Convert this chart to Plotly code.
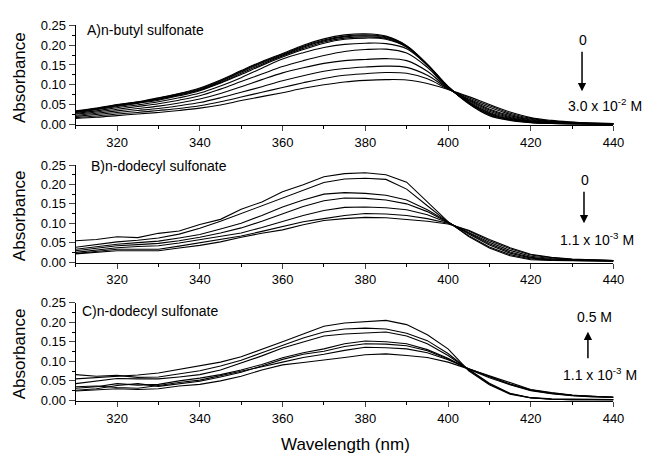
import plotly.graph_objects as go

W, H = 653, 462

wavelength = [310, 315, 320, 325, 330, 335, 340, 345, 350, 355, 360, 365, 370, 375,
              380, 385, 390, 395, 400, 405, 410, 415, 420, 425, 430, 435, 440]

# Panel A: n-butyl sulfonate (0 -> 3.0e-2 M)
A1 = [0.034,0.041,0.050,0.057,0.067,0.078,0.092,0.112,0.136,0.159,0.179,0.200,0.216,0.226,0.229,0.223,0.199,0.152,0.096,0.052,0.022,0.010,0.004,0.002,0.001,0.001,0.001]
A2 = [0.033,0.040,0.049,0.056,0.066,0.077,0.090,0.110,0.134,0.157,0.177,0.197,0.213,0.223,0.226,0.221,0.198,0.151,0.096,0.053,0.024,0.011,0.005,0.002,0.001,0.001,0.001]
A3 = [0.032,0.039,0.048,0.055,0.064,0.075,0.088,0.108,0.132,0.155,0.175,0.195,0.211,0.221,0.224,0.219,0.197,0.151,0.095,0.054,0.026,0.012,0.005,0.003,0.002,0.001,0.001]
A4 = [0.031,0.038,0.047,0.054,0.063,0.074,0.087,0.106,0.129,0.152,0.173,0.192,0.208,0.218,0.221,0.217,0.196,0.150,0.095,0.055,0.028,0.013,0.006,0.003,0.002,0.001,0.001]
A5 = [0.030,0.037,0.045,0.053,0.061,0.072,0.085,0.104,0.126,0.149,0.170,0.189,0.205,0.215,0.218,0.215,0.195,0.150,0.094,0.056,0.030,0.015,0.007,0.004,0.002,0.001,0.001]
A6 = [0.028,0.034,0.042,0.049,0.057,0.067,0.079,0.097,0.118,0.142,0.165,0.181,0.194,0.202,0.205,0.204,0.191,0.149,0.093,0.058,0.033,0.017,0.008,0.004,0.002,0.002,0.001]
A7 = [0.026,0.031,0.038,0.045,0.052,0.061,0.072,0.089,0.108,0.127,0.146,0.161,0.174,0.184,0.189,0.190,0.180,0.144,0.092,0.060,0.036,0.019,0.009,0.005,0.003,0.002,0.001]
A8 = [0.023,0.028,0.034,0.040,0.046,0.054,0.064,0.078,0.095,0.113,0.130,0.143,0.154,0.161,0.164,0.166,0.161,0.134,0.091,0.062,0.039,0.022,0.011,0.006,0.003,0.002,0.001]
A9 = [0.020,0.025,0.030,0.035,0.040,0.047,0.055,0.067,0.081,0.095,0.110,0.123,0.134,0.141,0.145,0.147,0.144,0.124,0.090,0.064,0.043,0.025,0.013,0.007,0.004,0.002,0.001]
A10 = [0.017,0.021,0.026,0.030,0.035,0.040,0.047,0.057,0.069,0.081,0.093,0.105,0.116,0.124,0.128,0.131,0.129,0.115,0.089,0.067,0.047,0.028,0.015,0.008,0.005,0.003,0.002]
A11 = [0.015,0.018,0.022,0.026,0.030,0.035,0.041,0.049,0.060,0.070,0.080,0.091,0.100,0.107,0.111,0.113,0.112,0.103,0.088,0.070,0.050,0.031,0.017,0.010,0.006,0.003,0.002]

# Panel B: n-dodecyl sulfonate (0 -> 1.1e-3 M)
B1 = [0.055,0.058,0.065,0.063,0.074,0.080,0.097,0.110,0.136,0.155,0.181,0.199,0.220,0.228,0.230,0.225,0.206,0.154,0.104,0.066,0.036,0.016,0.006,0.004,0.003,0.003,0.002]
B2 = [0.038,0.045,0.052,0.056,0.062,0.072,0.087,0.105,0.125,0.145,0.165,0.187,0.205,0.214,0.216,0.213,0.188,0.145,0.103,0.068,0.039,0.019,0.008,0.005,0.004,0.003,0.003]
B3 = [0.033,0.040,0.046,0.050,0.054,0.062,0.071,0.085,0.100,0.120,0.142,0.160,0.175,0.179,0.177,0.172,0.160,0.135,0.103,0.072,0.044,0.023,0.010,0.006,0.004,0.004,0.003]
B4 = [0.029,0.036,0.042,0.045,0.048,0.055,0.064,0.075,0.088,0.105,0.125,0.143,0.158,0.165,0.164,0.160,0.150,0.130,0.102,0.074,0.047,0.026,0.012,0.007,0.005,0.004,0.003]
B5 = [0.025,0.031,0.037,0.040,0.042,0.049,0.058,0.066,0.075,0.089,0.104,0.120,0.133,0.141,0.142,0.140,0.135,0.122,0.101,0.077,0.051,0.030,0.015,0.009,0.006,0.005,0.004]
B6 = [0.022,0.028,0.033,0.033,0.033,0.041,0.050,0.058,0.067,0.079,0.092,0.104,0.112,0.120,0.125,0.124,0.120,0.112,0.100,0.080,0.055,0.034,0.018,0.011,0.007,0.005,0.004]
B7 = [0.021,0.025,0.029,0.029,0.029,0.036,0.043,0.052,0.064,0.074,0.083,0.096,0.107,0.112,0.115,0.114,0.110,0.105,0.098,0.082,0.058,0.037,0.020,0.012,0.008,0.006,0.004]

# Panel C: n-dodecyl sulfonate (1.1e-3 M -> 0.5 M)
C1 = [0.055,0.058,0.062,0.065,0.070,0.079,0.088,0.098,0.112,0.130,0.150,0.170,0.190,0.198,0.202,0.205,0.194,0.168,0.132,0.076,0.040,0.016,0.006,0.003,0.002,0.002,0.002]
C2 = [0.066,0.062,0.064,0.059,0.060,0.068,0.076,0.088,0.103,0.122,0.142,0.160,0.175,0.183,0.185,0.183,0.172,0.153,0.120,0.078,0.042,0.017,0.007,0.003,0.002,0.002,0.002]
C3 = [0.043,0.050,0.056,0.055,0.055,0.060,0.066,0.078,0.095,0.114,0.134,0.150,0.165,0.170,0.172,0.175,0.165,0.145,0.115,0.080,0.044,0.018,0.007,0.004,0.003,0.002,0.002]
C4 = [0.031,0.035,0.043,0.039,0.041,0.050,0.057,0.066,0.078,0.092,0.109,0.122,0.132,0.145,0.152,0.150,0.145,0.130,0.108,0.080,0.058,0.040,0.025,0.017,0.012,0.009,0.008]
C5 = [0.026,0.030,0.038,0.043,0.036,0.043,0.049,0.060,0.072,0.088,0.105,0.118,0.126,0.138,0.145,0.144,0.140,0.127,0.106,0.081,0.060,0.041,0.026,0.018,0.013,0.010,0.008]
C6 = [0.035,0.037,0.033,0.031,0.038,0.046,0.052,0.063,0.075,0.086,0.098,0.110,0.118,0.128,0.136,0.135,0.132,0.122,0.104,0.081,0.061,0.042,0.027,0.019,0.013,0.010,0.008]
C7 = [0.024,0.027,0.030,0.028,0.030,0.037,0.041,0.050,0.062,0.078,0.091,0.097,0.103,0.110,0.117,0.119,0.115,0.110,0.098,0.080,0.062,0.044,0.028,0.020,0.014,0.010,0.008]

panels = [
    ([A1, A2, A3, A4, A5, A6, A7, A8, A9, A10, A11], "spline"),
    ([B1, B2, B3, B4, B5, B6, B7], "linear"),
    ([C1, C2, C3, C4, C5, C6, C7], "linear"),
]

panel_titles = ["A)n-butyl sulfonate", "B)n-dodecyl sulfonate", "C)n-dodecyl sulfonate"]
y_ticks = [0.00, 0.05, 0.10, 0.15, 0.20, 0.25]
x_ticks = [320, 340, 360, 380, 400, 420, 440]

FONT = "Liberation Sans, Arial, Helvetica, sans-serif"

def px(x):
    return x / W

def py(y):
    return 1 - y / H

fig = go.Figure()

panel_px = [(19, 121.8), (163, 263.8), (305, 406.5)]
x_dom = [px(77), px(624)]

for i, (curves, shape) in enumerate(panels):
    sfx = "" if i == 0 else str(i + 1)
    for c in curves:
        fig.add_trace(go.Scatter(
            x=wavelength, y=c, mode="lines",
            line=dict(color="black", width=1.1, shape=shape),
            xaxis="x" + sfx, yaxis="y" + sfx, showlegend=False, hoverinfo="skip"))
    top, bot = panel_px[i]
    fig.layout["xaxis" + sfx] = dict(
        domain=x_dom, anchor="y" + sfx, range=[310, 440],
        tickvals=x_ticks, ticks="outside", ticklen=5, tickwidth=1,
        showline=True, linecolor="black", linewidth=1, showgrid=False, zeroline=False,
        tickfont=dict(family=FONT, size=13, color="black"),
        minor=dict(dtick=10, tick0=310, ticks="outside", ticklen=3, tickcolor="black"),
    )
    fig.layout["yaxis" + sfx] = dict(
        domain=[py(bot), py(top)], anchor="x" + sfx, range=[-0.002, 0.25],
        tickvals=y_ticks, tickformat=".2f", ticks="outside", ticklen=6, tickwidth=1,
        showline=True, linecolor="black", linewidth=1, showgrid=False, zeroline=False,
        tickfont=dict(family=FONT, size=13, color="black"),
        minor=dict(dtick=0.025, tick0=0, ticks="outside", ticklen=3, tickcolor="black"),
    )

annotations = []
for yc in [72.5, 215, 357.5]:
    annotations.append(dict(text="Absorbance", x=px(20), y=py(yc), xref="paper", yref="paper",
                            textangle=-90, showarrow=False, xanchor="center", yanchor="middle",
                            font=dict(family=FONT, size=17, color="black")))
for (xl, yl), t in zip([(86, 24), (91, 164), (81, 313)], panel_titles):
    annotations.append(dict(text=t, x=px(xl), y=py(yl), xref="paper", yref="paper",
                            showarrow=False, xanchor="left", yanchor="middle",
                            font=dict(family=FONT, size=14, color="black")))
annotations.append(dict(text="Wavelength (nm)", x=px(351), y=py(451), xref="paper", yref="paper",
                        showarrow=False, xanchor="center", yanchor="middle",
                        font=dict(family=FONT, size=17, color="black")))

labels = [
    ("0", 593, 34), ("3.0 x 10<sup>-2</sup> M", 615, 101),
    ("0", 595, 178), ("1.1 x 10<sup>-3</sup> M", 607, 239),
    ("0.5 M", 605, 320), ("1.1 x 10<sup>-3</sup> M", 610, 378),
]
for t, xx, yy in labels:
    annotations.append(dict(text=t, x=px(xx), y=py(yy), xref="paper", yref="paper",
                            showarrow=False, xanchor="center", yanchor="middle",
                            font=dict(family=FONT, size=14, color="black")))

arrows = [(592, 87, -41), (594, 223, -33), (598, 335, 28)]
for xx, tip, ay in arrows:
    annotations.append(dict(text="", x=px(xx), y=py(tip), xref="paper", yref="paper",
                            ax=0, ay=ay, axref="pixel", ayref="pixel", showarrow=True,
                            arrowhead=2, arrowsize=1.1, arrowwidth=1.5, arrowcolor="black"))

fig.update_layout(
    width=W, height=H, autosize=False,
    margin=dict(l=0, r=0, t=0, b=0),
    paper_bgcolor="white", plot_bgcolor="white",
    annotations=annotations,
    font=dict(family=FONT, color="black"),
)

fig.write_html("out.html")
